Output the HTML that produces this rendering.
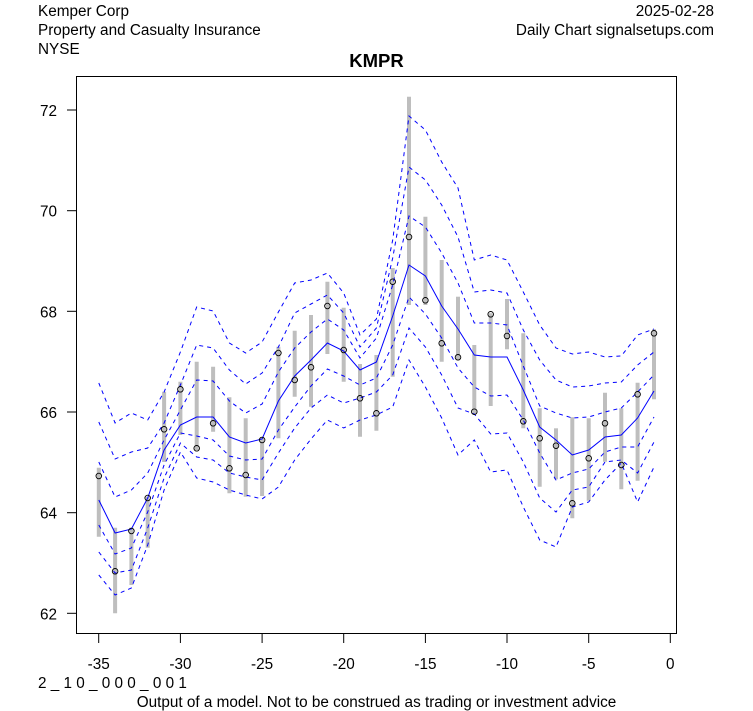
<!DOCTYPE html>
<html>
<head>
<meta charset="utf-8">
<style>
html,body{margin:0;padding:0;background:#fff;}
svg{display:block;}
text{font-family:"Liberation Sans",Arial,sans-serif;fill:#000;}
</style>
</head>
<body>
<svg width="753" height="711" viewBox="0 0 753 711" xmlns="http://www.w3.org/2000/svg">
<rect x="0" y="0" width="753" height="711" fill="#fff"/>

<!-- header -->
<text x="38" y="16" font-size="15.3">Kemper Corp</text>
<text x="38" y="35" font-size="15.3">Property and Casualty Insurance</text>
<text x="38" y="54" font-size="15.3">NYSE</text>
<text x="714" y="16" font-size="15.3" text-anchor="end">2025-02-28</text>
<text x="714" y="35" font-size="15.3" text-anchor="end">Daily Chart signalsetups.com</text>
<text x="376.5" y="67" font-size="18.5" font-weight="bold" text-anchor="middle">KMPR</text>

<!-- bars -->
<g stroke="#bebebe" stroke-width="4" fill="none">
<line x1="98.8" y1="467.7" x2="98.8" y2="536.7"/>
<line x1="115.1" y1="527.7" x2="115.1" y2="613.3"/>
<line x1="131.4" y1="527.7" x2="131.4" y2="585"/>
<line x1="147.7" y1="496.7" x2="147.7" y2="547.7"/>
<line x1="164.1" y1="391.7" x2="164.1" y2="462"/>
<line x1="180.4" y1="381.7" x2="180.4" y2="435"/>
<line x1="196.7" y1="361.7" x2="196.7" y2="450"/>
<line x1="213.1" y1="366.7" x2="213.1" y2="431.7"/>
<line x1="229.4" y1="397.3" x2="229.4" y2="493.3"/>
<line x1="245.7" y1="418.3" x2="245.7" y2="496.7"/>
<line x1="262.1" y1="437" x2="262.1" y2="496"/>
<line x1="278.4" y1="346.7" x2="278.4" y2="438.3"/>
<line x1="294.7" y1="330.7" x2="294.7" y2="396.7"/>
<line x1="311" y1="315" x2="311" y2="406.7"/>
<line x1="327.4" y1="281.7" x2="327.4" y2="354"/>
<line x1="343.7" y1="307.7" x2="343.7" y2="381.7"/>
<line x1="360" y1="364" x2="360" y2="436.7"/>
<line x1="376.4" y1="355" x2="376.4" y2="430.7"/>
<line x1="392.7" y1="268" x2="392.7" y2="376.7"/>
<line x1="409" y1="96.7" x2="409" y2="305"/>
<line x1="425.4" y1="216.7" x2="425.4" y2="305"/>
<line x1="441.7" y1="260" x2="441.7" y2="361.7"/>
<line x1="458" y1="296.7" x2="458" y2="360"/>
<line x1="474.3" y1="345" x2="474.3" y2="414"/>
<line x1="490.7" y1="313.3" x2="490.7" y2="406"/>
<line x1="507" y1="299" x2="507" y2="349.3"/>
<line x1="523.3" y1="333.3" x2="523.3" y2="428.3"/>
<line x1="539.7" y1="408.3" x2="539.7" y2="486.7"/>
<line x1="556" y1="428.3" x2="556" y2="479.3"/>
<line x1="572.3" y1="417.3" x2="572.3" y2="518.3"/>
<line x1="588.7" y1="418.3" x2="588.7" y2="500.7"/>
<line x1="605" y1="392.7" x2="605" y2="461.7"/>
<line x1="621.3" y1="408.3" x2="621.3" y2="489.3"/>
<line x1="637.6" y1="382.7" x2="637.6" y2="480.7"/>
<line x1="654" y1="329.3" x2="654" y2="399.3"/>
</g>

<!-- bands -->
<g fill="none" stroke="#0000ff" stroke-width="1">
<polyline points="98.8,500 115.1,533 131.4,529 147.7,498 164.1,450 180.4,425 196.7,417 213.1,417 229.4,437 245.7,443 262.1,439 278.4,401 294.7,376 311,360 327.4,343 343.7,351 360,370 376.4,362 392.7,316 409,265 425.4,276 441.7,306 458,329 474.3,355 490.7,357 507,357 523.3,390 539.7,427 556,440 572.3,455 588.7,450 605,437 621.3,435 637.6,418 654,391"/>
<g stroke-dasharray="4,4">
<polyline points="98.8,462 115.1,497 131.4,490 147.7,473 164.1,440 180.4,410 196.7,380 213.1,381 229.4,401 245.7,413 262.1,404 278.4,372 294.7,348 311,332 327.4,319 343.7,330 360,358 376.4,338 392.7,285 409,216 425.4,227 441.7,253 458,283 474.3,323 490.7,323 507,325 523.3,366 539.7,406 556,413 572.3,418 588.7,417 605,412 621.3,408 637.6,392 654,375"/>
<polyline points="98.8,422 115.1,459 131.4,452 147.7,448 164.1,423 180.4,385 196.7,345 213.1,348 229.4,370 245.7,384 262.1,373 278.4,347 294.7,313 311,304 327.4,295 343.7,313 360,347 376.4,328 392.7,258 409,167 425.4,180 441.7,205 458,237 474.3,292 490.7,290 507,293 523.3,330 539.7,360 556,380 572.3,387 588.7,386 605,383 621.3,382 637.6,365 654,352"/>
<polyline points="98.8,383 115.1,423 131.4,413 147.7,420 164.1,392 180.4,352 196.7,307 213.1,311 229.4,343 245.7,353 262.1,342 278.4,312 294.7,283 311,280 327.4,273 343.7,293 360,335 376.4,319 392.7,240 409,116 425.4,130 441.7,162 458,188 474.3,260 490.7,255 507,260 523.3,292 539.7,325 556,348 572.3,354 588.7,352 605,357 621.3,356 637.6,335 654,329"/>
<polyline points="98.8,525 115.1,554 131.4,548 147.7,512 164.1,465 180.4,433 196.7,436 213.1,440 229.4,456 245.7,460 262.1,459 278.4,430 294.7,407 311,386 327.4,369 343.7,376 360,385 376.4,378 392.7,345 409,297 425.4,314 441.7,338 458,368 474.3,387 490.7,396 507,395 523.3,420 539.7,453 556,480 572.3,473 588.7,469 605,452 621.3,447 637.6,447 654,417"/>
<polyline points="98.8,552 115.1,573 131.4,570 147.7,528 164.1,478 180.4,443 196.7,457 213.1,460 229.4,473 245.7,477 262.1,480 278.4,453 294.7,428 311,408 327.4,395 343.7,403 360,398 376.4,392 392.7,375 409,328 425.4,347 441.7,375 458,408 474.3,414 490.7,434 507,433 523.3,462 539.7,498 556,512 572.3,490 588.7,487 605,462 621.3,460 637.6,473 654,442"/>
<polyline points="98.8,575 115.1,595 131.4,588 147.7,545 164.1,490 180.4,452 196.7,478 213.1,482 229.4,490 245.7,495 262.1,499 278.4,487 294.7,460 311,439 327.4,420 343.7,428 360,420 376.4,415 392.7,407 409,360 425.4,387 441.7,418 458,455 474.3,440 490.7,472 507,470 523.3,507 539.7,540 556,547 572.3,507 588.7,502 605,480 621.3,463 637.6,502 654,467"/>
</g>
</g>

<!-- closes -->
<g fill="none" stroke="#000" stroke-width="0.9">
<circle cx="98.8" cy="476" r="2.8"/>
<circle cx="115.1" cy="571.3" r="2.8"/>
<circle cx="131.4" cy="531" r="2.8"/>
<circle cx="147.7" cy="498" r="2.8"/>
<circle cx="164.1" cy="429.3" r="2.8"/>
<circle cx="180.4" cy="389.3" r="2.8"/>
<circle cx="196.7" cy="448.3" r="2.8"/>
<circle cx="213.1" cy="423.3" r="2.8"/>
<circle cx="229.4" cy="468.3" r="2.8"/>
<circle cx="245.7" cy="475" r="2.8"/>
<circle cx="262.1" cy="440" r="2.8"/>
<circle cx="278.4" cy="353" r="2.8"/>
<circle cx="294.7" cy="380" r="2.8"/>
<circle cx="311" cy="367.3" r="2.8"/>
<circle cx="327.4" cy="306" r="2.8"/>
<circle cx="343.7" cy="350" r="2.8"/>
<circle cx="360" cy="398.3" r="2.8"/>
<circle cx="376.4" cy="413.3" r="2.8"/>
<circle cx="392.7" cy="281.7" r="2.8"/>
<circle cx="409" cy="237" r="2.8"/>
<circle cx="425.4" cy="300.3" r="2.8"/>
<circle cx="441.7" cy="343.3" r="2.8"/>
<circle cx="458" cy="357.3" r="2.8"/>
<circle cx="474.3" cy="411.7" r="2.8"/>
<circle cx="490.7" cy="314.3" r="2.8"/>
<circle cx="507" cy="336" r="2.8"/>
<circle cx="523.3" cy="421.3" r="2.8"/>
<circle cx="539.7" cy="438.3" r="2.8"/>
<circle cx="556" cy="445.7" r="2.8"/>
<circle cx="572.3" cy="503.3" r="2.8"/>
<circle cx="588.7" cy="458.3" r="2.8"/>
<circle cx="605" cy="423.3" r="2.8"/>
<circle cx="621.3" cy="465" r="2.8"/>
<circle cx="637.6" cy="394.3" r="2.8"/>
<circle cx="654" cy="333.3" r="2.8"/>
</g>

<!-- box and axes -->
<rect x="76.5" y="76.5" width="600" height="557" fill="none" stroke="#000" stroke-width="1"/>
<g stroke="#000" stroke-width="1">
<line x1="67" y1="110" x2="76.5" y2="110"/>
<line x1="67" y1="210.7" x2="76.5" y2="210.7"/>
<line x1="67" y1="311.3" x2="76.5" y2="311.3"/>
<line x1="67" y1="412" x2="76.5" y2="412"/>
<line x1="67" y1="512.7" x2="76.5" y2="512.7"/>
<line x1="67" y1="613.3" x2="76.5" y2="613.3"/>
<line x1="98.7" y1="633.5" x2="98.7" y2="643"/>
<line x1="180.4" y1="633.5" x2="180.4" y2="643"/>
<line x1="262.1" y1="633.5" x2="262.1" y2="643"/>
<line x1="343.7" y1="633.5" x2="343.7" y2="643"/>
<line x1="425.4" y1="633.5" x2="425.4" y2="643"/>
<line x1="507" y1="633.5" x2="507" y2="643"/>
<line x1="588.7" y1="633.5" x2="588.7" y2="643"/>
<line x1="670.3" y1="633.5" x2="670.3" y2="643"/>
</g>
<g font-size="15.3" text-anchor="end">
<text x="57" y="116">72</text>
<text x="57" y="216.7">70</text>
<text x="57" y="317.3">68</text>
<text x="57" y="418">66</text>
<text x="57" y="518.7">64</text>
<text x="57" y="619.3">62</text>
</g>
<g font-size="15.3" text-anchor="middle">
<text x="98.7" y="669">-35</text>
<text x="180.4" y="669">-30</text>
<text x="262.1" y="669">-25</text>
<text x="343.7" y="669">-20</text>
<text x="425.4" y="669">-15</text>
<text x="507" y="669">-10</text>
<text x="588.7" y="669">-5</text>
<text x="670.3" y="669">0</text>
</g>

<!-- footer -->
<text x="38" y="688" font-size="15.3" xml:space="preserve">2 _ 1 0 _ 0 0 0 _ 0 0 1</text>
<text x="376.5" y="707" font-size="15.3" text-anchor="middle">Output of a model. Not to be construed as trading or investment advice</text>
</svg>
</body>
</html>
